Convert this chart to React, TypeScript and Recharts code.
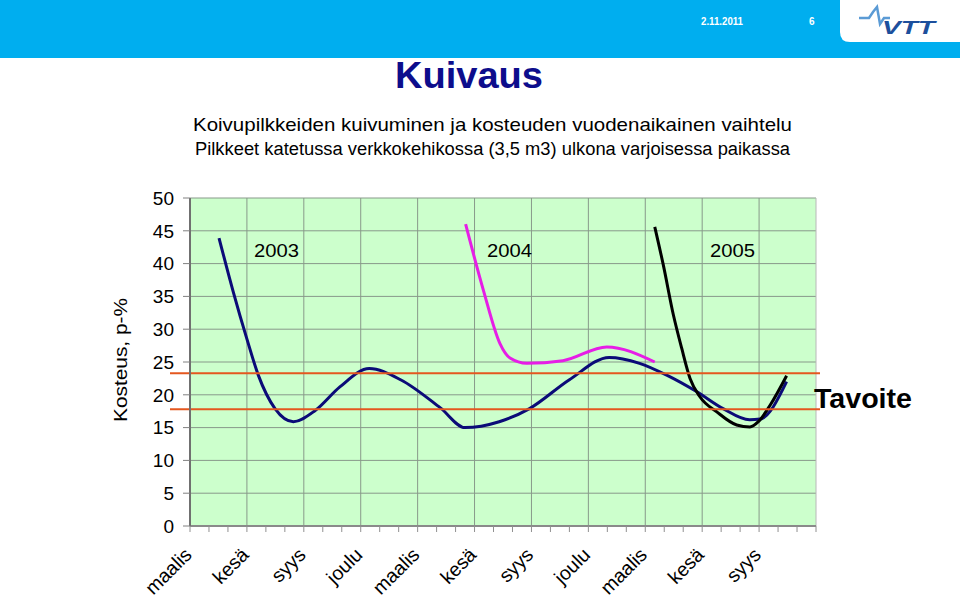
import React from 'react';
import { LineChart, Line, XAxis, YAxis, CartesianGrid, ReferenceLine } from 'recharts';

const FONT = "'Liberation Sans', Arial, Helvetica, sans-serif";

// x axis: months counted from March 2003 (0) to December 2005 (33)
const monthTicks = [0, 1, 2, 3, 4, 5, 6, 7, 8, 9, 10, 11, 12, 13, 14, 15, 16, 17, 18, 19, 20, 21, 22, 23, 24, 25, 26, 27, 28, 29, 30, 31, 32, 33];
const labelMonths = [0, 3, 6, 9, 12, 15, 18, 21, 24, 27, 30];
const seasonLabels = ['maalis', 'kesä', 'syys', 'joulu', 'maalis', 'kesä', 'syys', 'joulu', 'maalis', 'kesä', 'syys'];
const gridMonths = [3, 6, 9, 12, 15, 18, 21, 24, 27, 30];
const yTicks = [0, 5, 10, 15, 20, 25, 30, 35, 40, 45, 50];

// moisture of the stacks (navy, all years)
const navyMonths = [1.53, 2.28, 2.99, 3.6, 4.48, 5.45, 6.6, 7.9, 9.45, 11.1, 13.2, 14.5, 16.3, 17.9, 20, 22.1, 23.7, 25.13, 26.7, 28.1, 29.5, 30.05, 31.45];
const navyValues = [43.9, 35.7, 28.6, 23, 17.9, 15.9, 17.6, 21.2, 24, 22.3, 18, 15, 15.9, 17.9, 22.3, 25.7, 24.8, 23, 20.5, 17.9, 16.2, 16.3, 22];

// 2004 batch (magenta)
const magentaMonths = [14.53, 15.46, 16.34, 16.87, 17.75, 19.66, 21.97, 24.5];
const magentaValues = [46, 36, 27.8, 25.6, 24.8, 25.2, 27.3, 25];

// 2005 batch (black)
const blackMonths = [24.5, 24.95, 25.48, 25.92, 26.36, 26.88, 27.77, 28.82, 29.52, 29.96, 30.58, 31.45];
const blackValues = [45.6, 39.8, 32.2, 27.1, 22.5, 19.7, 17.4, 15.4, 15.1, 15.9, 18.4, 22.9];

// target band
const targetValues = [23.3, 17.8];

const yearLabels = ['2003', '2004', '2005'];

const navyData = navyMonths.map((m, i) => ({ m, v: navyValues[i] }));
const magentaData = magentaMonths.map((m, i) => ({ m, v: magentaValues[i] }));
const blackData = blackMonths.map((m, i) => ({ m, v: blackValues[i] }));

const GRID = '#88998a';

const MonthTick = (props: any) => {
  const { x, y, payload } = props;
  const idx = labelMonths.indexOf(payload.value);
  if (idx < 0) return <g />;
  const ax = x + 3;
  const ay = y + 22;
  return (
    <text x={ax} y={ay} transform={`rotate(-45 ${ax} ${ay})`} textAnchor="end" fontSize={19.5} fontFamily={FONT} fill="#000">
      {seasonLabels[idx]}
    </text>
  );
};

const TargetLine = (props: any) => {
  const { x1, y1, x2, y2 } = props;
  return <line x1={x1 - 20} y1={y1} x2={x2 + 4} y2={y2} stroke="#e4571f" strokeWidth={2} />;
};

export default function App() {
  return (
    <div style={{ position: 'absolute', left: 0, top: 0, width: 960, height: 600, background: '#fff', overflow: 'hidden' }}>
      <LineChart
        width={960}
        height={600}
        margin={{ top: 198, right: 144, bottom: 0, left: 0 }}
        style={{ position: 'absolute', left: 0, top: 0 }}
      >
        <CartesianGrid vertical={false} fill="#ccffcc" stroke={GRID} strokeWidth={1} />
        <XAxis
          dataKey="m"
          type="number"
          domain={[0, 33]}
          ticks={monthTicks}
          interval={0}
          allowDataOverflow
          height={74}
          tickSize={6}
          tick={<MonthTick />}
          tickLine={{ stroke: '#909090' }}
          axisLine={{ stroke: '#8a8a8a', strokeWidth: 2 }}
        />
        <YAxis
          type="number"
          domain={[0, 50]}
          ticks={yTicks}
          interval={0}
          width={190}
          tickSize={7}
          tickMargin={9}
          tick={{ fontSize: 19, fill: '#000', fontFamily: FONT }}
          tickLine={{ stroke: '#808080' }}
          axisLine={{ stroke: '#707070', strokeWidth: 2 }}
        />
        {gridMonths.map((m) => (
          <ReferenceLine key={m} x={m} stroke={GRID} strokeWidth={1} />
        ))}
        <ReferenceLine x={33} stroke="#b8b8b8" strokeWidth={1} />
        <Line data={navyData} dataKey="v" type="monotone" stroke="#0b0b78" strokeWidth={3} dot={false} isAnimationActive={false} />
        <Line data={magentaData} dataKey="v" type="monotone" stroke="#e61ee6" strokeWidth={3} dot={false} isAnimationActive={false} />
        <Line data={blackData} dataKey="v" type="monotone" stroke="#000000" strokeWidth={3} dot={false} isAnimationActive={false} />
        {targetValues.map((t) => (
          <ReferenceLine key={t} y={t} shape={<TargetLine />} />
        ))}
      </LineChart>

      <svg width={960} height={600} style={{ position: 'absolute', left: 0, top: 0, pointerEvents: 'none' }} fontFamily={FONT}>
        <rect x={0} y={0} width={960} height={58} fill="#00aeef" />
        <path d="M840,0 H960 V42 H850 Q840,42 840,32 Z" fill="#ffffff" />
        <polyline points="859,18 869,18 873,12 877,7 880,24 884,18 890,18" fill="none" stroke="#5b9bd5" strokeWidth={2.5} />
        <text x={882} y={34} fontSize={18} fontWeight="bold" fontStyle="italic" fill="#1d4f9c" textLength={53} lengthAdjust="spacingAndGlyphs">VTT</text>
        <text x={701} y={25} fontSize={10} fontWeight="bold" fill="#ffffff" textLength={42} lengthAdjust="spacingAndGlyphs">2.11.2011</text>
        <text x={809} y={25} fontSize={10} fontWeight="bold" fill="#ffffff">6</text>

        <text x={395} y={88} fontSize={36} fontWeight="bold" fill="#0d0d8c" textLength={148} lengthAdjust="spacingAndGlyphs">Kuivaus</text>
        <text x={193} y={131} fontSize={18.5} fill="#000" textLength={599} lengthAdjust="spacingAndGlyphs">Koivupilkkeiden kuivuminen ja kosteuden vuodenaikainen vaihtelu</text>
        <text x={195} y={155} fontSize={18} fill="#000" textLength={595} lengthAdjust="spacingAndGlyphs">Pilkkeet katetussa verkkokehikossa (3,5 m3) ulkona varjoisessa paikassa</text>

        <text x={254} y={257} fontSize={18.5} fill="#000" textLength={45} lengthAdjust="spacingAndGlyphs">{yearLabels[0]}</text>
        <text x={487} y={257} fontSize={18.5} fill="#000" textLength={45} lengthAdjust="spacingAndGlyphs">{yearLabels[1]}</text>
        <text x={710} y={257} fontSize={18.5} fill="#000" textLength={45} lengthAdjust="spacingAndGlyphs">{yearLabels[2]}</text>

        <text x={127} y={360} fontSize={19} fill="#000" textAnchor="middle" transform="rotate(-90 127 360)" textLength={124} lengthAdjust="spacingAndGlyphs">Kosteus, p-%</text>

        <text x={814} y={408} fontSize={27} fontWeight="bold" fill="#000" textLength={98} lengthAdjust="spacingAndGlyphs">Tavoite</text>
      </svg>
    </div>
  );
}
